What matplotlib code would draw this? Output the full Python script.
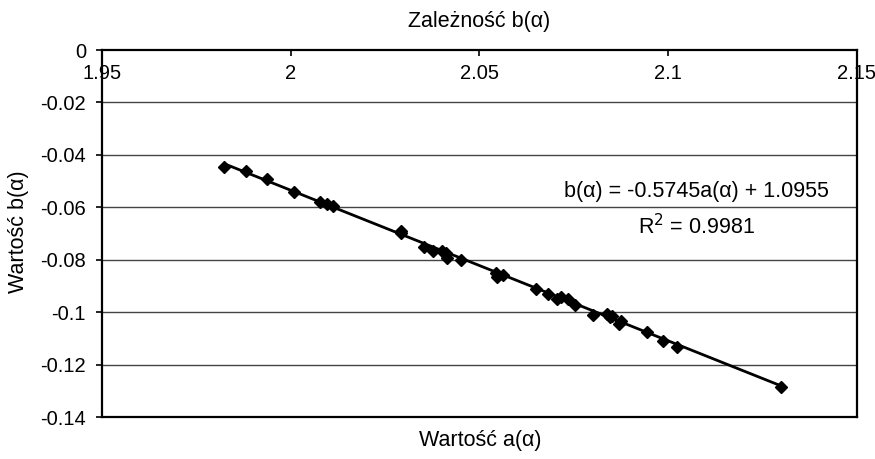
import matplotlib.pyplot as plt
import numpy as np

# measured pairs a(alpha), b(alpha)
a_vals = [1.9824, 1.9881, 1.9937, 2.0008, 2.0077, 2.0095, 2.0113, 2.0291, 2.0293,
          2.0354, 2.0376, 2.0400, 2.0411, 2.0415, 2.0451, 2.0545, 2.0547, 2.0563,
          2.0650, 2.0682, 2.0704, 2.0716, 2.0734, 2.0753, 2.0802, 2.0837, 2.0846,
          2.0850, 2.0870, 2.0874, 2.0943, 2.0985, 2.1024, 2.1300]
b_vals = [-0.0445, -0.0461, -0.0492, -0.0541, -0.0581, -0.0587, -0.0595, -0.0692, -0.0698,
          -0.0752, -0.0766, -0.0768, -0.0776, -0.0795, -0.0801, -0.0850, -0.0867, -0.0859,
          -0.0912, -0.0929, -0.0951, -0.0941, -0.0949, -0.0974, -0.1011, -0.1008, -0.1017,
          -0.1015, -0.1047, -0.1033, -0.1077, -0.1110, -0.1134, -0.1284]

slope = -0.5745
intercept = 1.0955
r2 = 0.9981

x_ticks = [1.95, 2.0, 2.05, 2.1, 2.15]
x_ticklabels = ['1.95', '2', '2.05', '2.1', '2.15']
y_ticks = [0, -0.02, -0.04, -0.06, -0.08, -0.1, -0.12, -0.14]
y_ticklabels = ['0', '-0.02', '-0.04', '-0.06', '-0.08', '-0.1', '-0.12', '-0.14']

plt.rcParams['font.family'] = ['Liberation Sans', 'DejaVu Sans']
fs = 14.5
fs_big = 15.5

fig = plt.figure(figsize=(8.75, 4.59), dpi=100)
ax = fig.add_axes([0.1166, 0.0915, 0.8628, 0.7995])

# linear trend across the data range
xt = np.array([min(a_vals), max(a_vals)])
ax.plot(xt, slope * xt + intercept, color='black', linewidth=2, zorder=3)
ax.plot(a_vals, b_vals, linestyle='none', marker='D', markersize=6,
        color='black', zorder=4)

ax.set_xlim(1.95, 2.15)
ax.set_ylim(-0.14, 0)
ax.set_yticks(y_ticks)
ax.set_yticklabels(y_ticklabels, fontsize=fs)
ax.set_xticks(x_ticks)
ax.set_xticklabels(x_ticklabels, fontsize=fs)

# x axis sits on the top edge, labels just under it
ax.tick_params(axis='x', bottom=False, top=True, labelbottom=False, labeltop=True,
               direction='in', length=4, width=1.2, pad=-24)
ax.tick_params(axis='y', direction='out', length=4.5, width=1.2, pad=7)

for y in y_ticks[1:-1]:
    ax.axhline(y, color='#444444', linewidth=1, zorder=1)

for s in ax.spines.values():
    s.set_linewidth(1.6)
    s.set_color('black')

ax.text(2.1075, -0.0541, f'b(\u03b1) = {slope}a(\u03b1) + {intercept}',
        ha='center', va='center', fontsize=fs_big)
ax.text(2.1075, -0.0675, f'R$^2$ = {r2}', ha='center', va='center', fontsize=fs_big)

fig.text(0.548, 0.954, 'Zale\u017cno\u015b\u0107 b(\u03b1)', ha='center', va='center', fontsize=fs_big)
fig.text(0.549, 0.040, 'Warto\u015b\u0107 a(\u03b1)', ha='center', va='center', fontsize=fs_big)
fig.text(0.021, 0.495, 'Warto\u015b\u0107 b(\u03b1)', ha='center', va='center',
         rotation=90, fontsize=fs_big)

fig.savefig('out.png', dpi=100)
